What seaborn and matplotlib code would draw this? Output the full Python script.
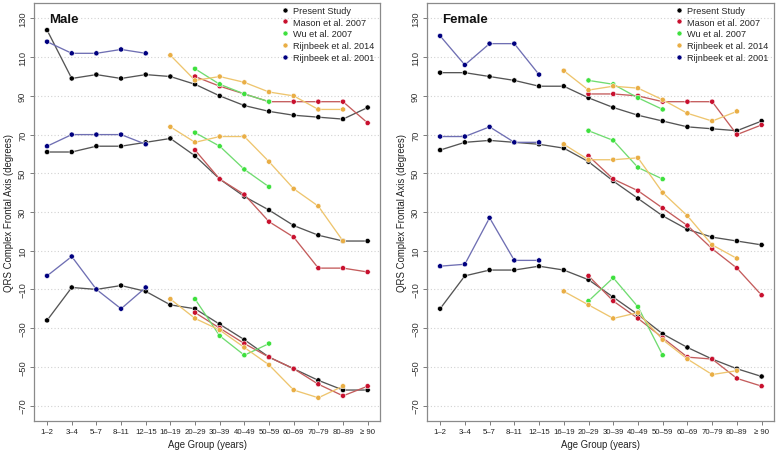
import numpy as np
import pandas as pd
import matplotlib
matplotlib.use("Agg")
import matplotlib.pyplot as plt
from matplotlib.lines import Line2D
import seaborn as sns

sns.set_theme(style="white")
plt.rcParams['font.family'] = ['Liberation Sans', 'DejaVu Sans']

nan = np.nan

# age groups on the x axis
age_groups = ["1\u20132", "3\u20134", "5\u20137", "8\u201311", "12\u201315", "16\u201319", "20\u201329",
              "30\u201339", "40\u201349", "50\u201359", "60\u201369", "70\u201379", "80\u201389", "\u2265 90"]
studies = ["Present Study", "Mason et al. 2007", "Wu et al. 2007",
           "Rijnbeek et al. 2014", "Rijnbeek et al. 2001"]

# each study: [upper, median, lower] curves
male_present = [[124, 99, 101, 99, 101, 100, 96, 90, 85, 82, 80, 79, 78, 84],
                [61, 61, 64, 64, 66, 68, 59, 47, 38, 31, 23, 18, 15, 15],
                [-26, -9, -10, -8, -11, -18, -20, -28, -36, -45, -51, -57, -62, -62]]
male_mason = [[nan]*6 + [100, 95, 91, 87, 87, 87, 87, 76],
              [nan]*6 + [62, 47, 39, 25, 17, 1, 1, -1],
              [nan]*6 + [-22, -30, -38, -45, -51, -59, -65, -60]]
male_wu = [[nan]*6 + [104, 96, 91, 87] + [nan]*4,
           [nan]*6 + [71, 64, 52, 43] + [nan]*4,
           [nan]*6 + [-15, -34, -44, -38] + [nan]*4]
male_rijn14 = [[nan]*5 + [111, 98, 100, 97, 92, 90, 83, 83, nan],
               [nan]*5 + [74, 66, 69, 69, 56, 42, 33, 15, nan],
               [nan]*5 + [-15, -25, -31, -40, -49, -62, -66, -60, nan]]
male_rijn01 = [[118, 112, 112, 114, 112] + [nan]*9,
               [64, 70, 70, 70, 65] + [nan]*9,
               [-3, 7, -10, -20, -9] + [nan]*9]

female_present = [[102, 102, 100, 98, 95, 95, 89, 84, 80, 77, 74, 73, 72, 77],
                  [62, 66, 67, 66, 65, 63, 56, 46, 37, 28, 21, 17, 15, 13],
                  [-20, -3, 0, 0, 2, 0, -5, -14, -23, -33, -40, -46, -51, -55]]
female_mason = [[nan]*6 + [91, 91, 90, 87, 87, 87, 70, 75],
                [nan]*6 + [59, 47, 41, 32, 23, 11, 1, -13],
                [nan]*6 + [-3, -16, -25, -35, -45, -46, -56, -60]]
female_wu = [[nan]*6 + [98, 96, 89, 83] + [nan]*4,
             [nan]*6 + [72, 67, 53, 47] + [nan]*4,
             [nan]*6 + [-16, -4, -19, -44] + [nan]*4]
female_rijn14 = [[nan]*5 + [103, 93, 95, 94, 88, 81, 77, 82, nan],
                 [nan]*5 + [65, 57, 57, 58, 40, 28, 13, 6, nan],
                 [nan]*5 + [-11, -18, -25, -22, -36, -46, -54, -52, nan]]
female_rijn01 = [[121, 106, 117, 117, 101] + [nan]*9,
                 [69, 69, 74, 66, 66] + [nan]*9,
                 [2, 3, 27, 5, 5] + [nan]*9]

marker_colors = ["#000000", "#C8102E", "#3EE03E", "#E9AE45", "#00007F"]
line_colors = ["#555555", "#C45C5C", "#70DC70", "#EEC56E", "#6F6FB3"]


def build_frame(curves):
    rows = []
    for study, bands in zip(studies, curves):
        for b, vals in enumerate(bands):
            for i, v in enumerate(vals):
                if not np.isnan(v):
                    rows.append((study, b, i, v))
    return pd.DataFrame(rows, columns=["study", "band", "age", "value"])


def draw_panel(ax, df, title):
    sns.lineplot(data=df, x="age", y="value", hue="study", units="band",
                 estimator=None, palette=dict(zip(studies, line_colors)),
                 hue_order=studies, lw=0.95, legend=False, ax=ax)
    sns.scatterplot(data=df, x="age", y="value", hue="study",
                    palette=dict(zip(studies, marker_colors)), hue_order=studies,
                    s=14, edgecolor="white", linewidth=0.4, legend=False,
                    ax=ax, zorder=3)
    ax.set_xlim(-0.53, 13.5)
    ax.set_ylim(-78, 138)
    ax.set_xticks(range(len(age_groups)))
    ax.set_xticklabels(age_groups, fontsize=5.6, color="#222222")
    yt = list(range(-70, 131, 20))
    ax.set_yticks(yt)
    ax.set_yticklabels([f"{v}".replace("-", "\u2212") for v in yt], fontsize=6.7, color="#333333")
    for lab in ax.get_yticklabels():
        lab.set_rotation(90)
        lab.set_va("center")
        lab.set_ha("right")
    ax.tick_params(axis="both", direction="out", length=3, width=0.6,
                   color="#666666", pad=2, bottom=True, left=True)
    for sp in ax.spines.values():
        sp.set_color("#8a8a8a")
        sp.set_linewidth(0.9)
    ax.yaxis.grid(True, ls=(0, (1, 2)), color="#d2d2d2", lw=0.8)
    ax.xaxis.grid(False)
    ax.set_axisbelow(True)
    ax.set_xlabel("Age Group (years)", fontsize=6.9, color="#222222", labelpad=3)
    ax.set_ylabel("QRS Complex Frontal Axis (degrees)", fontsize=6.9, color="#222222", labelpad=3)
    ax.text(0.043, 0.962, title, transform=ax.transAxes, fontsize=9.5,
            fontweight="bold", ha="left", va="center", color="#111111")
    handles = [Line2D([], [], ls="", marker="o", ms=3.6, mfc=c, mec="white", mew=0.4)
               for c in marker_colors]
    ax.legend(handles, studies, loc="upper left", bbox_to_anchor=(0.715, 0.993),
              frameon=False, fontsize=6.6, handlelength=0.8, handletextpad=0.5,
              labelspacing=0.3, borderpad=0, borderaxespad=0)


fig = plt.figure(figsize=(7.78, 4.56), dpi=100)
ax_m = fig.add_axes([34 / 778, 34 / 456, 346 / 778, 418 / 456])
ax_f = fig.add_axes([427 / 778, 34 / 456, 347 / 778, 418 / 456])

draw_panel(ax_m, build_frame([male_present, male_mason, male_wu, male_rijn14, male_rijn01]), "Male")
draw_panel(ax_f, build_frame([female_present, female_mason, female_wu, female_rijn14, female_rijn01]), "Female")

fig.savefig("out.png", dpi=100)
